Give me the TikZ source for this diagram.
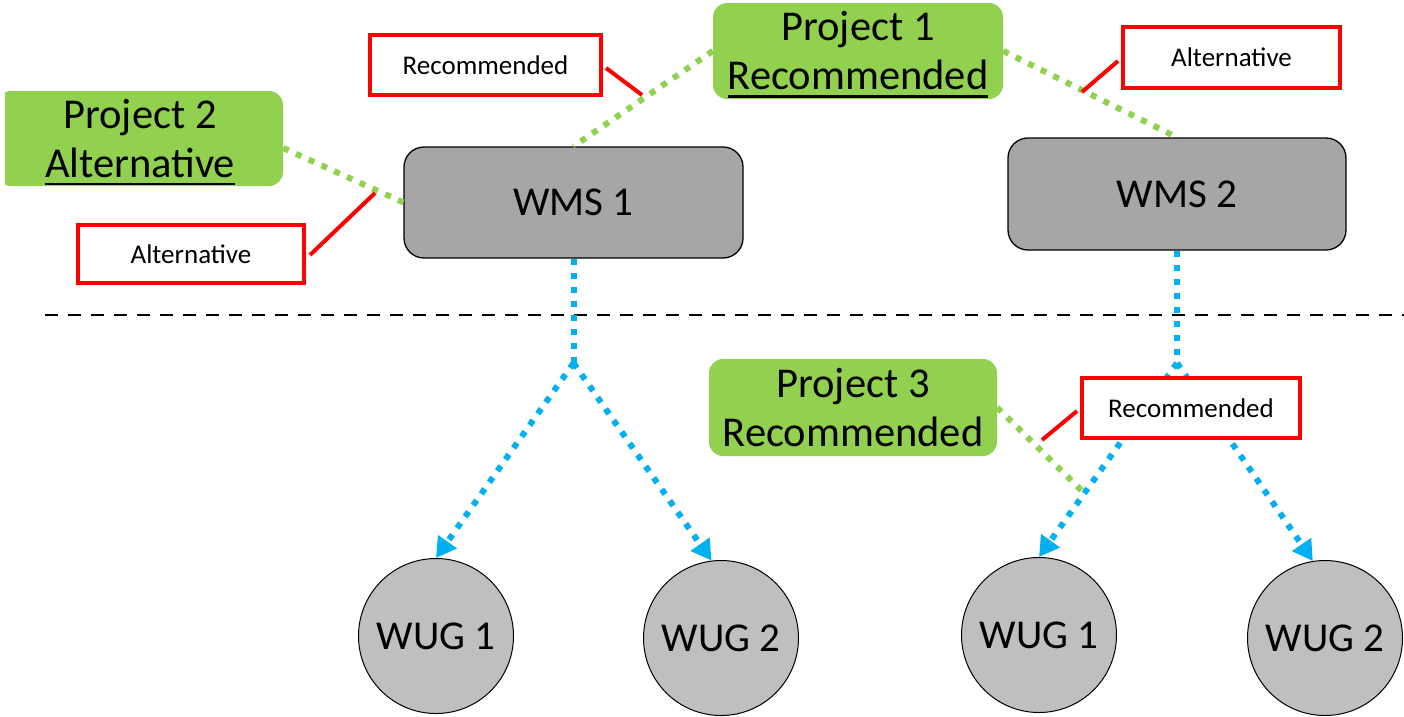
\documentclass[tikz,border=0pt]{standalone}
\usepackage{fontspec}
\setmainfont{Carlito}
\usetikzlibrary{arrows.meta}
\definecolor{pgreen}{HTML}{92D050}
\definecolor{pblue}{HTML}{00B0F0}
\definecolor{pred}{HTML}{FF0000}
\definecolor{wmsgray}{HTML}{A6A6A6}
\definecolor{wuggray}{HTML}{BFBFBF}
\newcommand\myul[1]{\setbox0\hbox{#1}\rlap{\smash{\rule[-8pt]{\wd0}{2.5pt}}}\box0}
\begin{document}
\begin{tikzpicture}[x=1pt,y=-1pt,
  proj/.style={fill=pgreen, rounded corners=14pt, align=center, inner sep=0pt,
    font=\fontsize{42.5}{49}\selectfont},
  wms/.style={draw=black, line width=1.3pt, fill=wmsgray, rounded corners=20pt,
    inner sep=0pt, font=\fontsize{41}{48}\selectfont},
  wug/.style={circle, draw=black, line width=1pt, fill=wuggray, minimum size=155pt,
    inner sep=0pt, font=\fontsize{41}{48}\selectfont},
  callout/.style={draw=pred, line width=4pt, fill=white, inner sep=0pt,
    font=\fontsize{27}{32}\selectfont},
  redline/.style={draw=pred, line width=4pt},
  greenlink/.style={draw=pgreen, line width=6pt, dash pattern=on 6pt off 8pt},
  bluelink/.style={draw=pblue, line width=6pt, dash pattern=on 6pt off 8pt},
  bluearrow/.style={bluelink, -{Triangle[length=20pt,width=22pt]}},
  divider/.style={draw=black, line width=2.5pt, dash pattern=on 13pt off 10pt}]
\useasboundingbox (0,0) rectangle (1404,716);
\fill[white] (0,0) rectangle (1404,716);

% project boxes
\node[proj, minimum width=290pt, minimum height=96pt] (p1) at (858,51)
  {Project 1\\\myul{Recommended}};
\begin{scope}
  \clip (5,0) rectangle (1404,716);
  \node[proj, minimum width=286pt, minimum height=95pt] (p2) at (140,138.5)
    {Project 2\\\myul{Alternative}};
\end{scope}
\node[proj, minimum width=288pt, minimum height=97pt] (p3) at (853,407.5)
  {Project 3\\Recommended};

% WMS boxes
\node[wms, minimum width=339pt, minimum height=111pt] (wms1) at (573.5,202.5) {WMS 1};
\node[wms, minimum width=338pt, minimum height=112pt] (wms2) at (1177,194) {WMS 2};

% WUG circles
\node[wug] (wugA) at (436,636) {WUG 1};
\node[wug] (wugB) at (721,638) {WUG 2};
\node[wug] (wugC) at (1039,635) {WUG 1};
\node[wug] (wugD) at (1325,638) {WUG 2};

% divider
\coordinate (d1) at (45,315);
\coordinate (d2) at (1404,315);
\draw[divider] (d1) -- (d2);

% blue links
\coordinate (b1) at (573.5,363);
\coordinate (b2) at (1177,363);
\draw[bluelink] (wms1.south) -- (b1);
\draw[bluelink] (wms2.south) -- (b2);
\draw[bluearrow] (b1) -- (wugA.north);
\draw[bluearrow] (b1) -- (wugB.97);
\draw[bluearrow] (b2) -- (wugC.north);
\draw[bluearrow] (b2) -- (wugD.99);

% green links
\coordinate (g3) at (1083,492);
\draw[greenlink] (p1.west) -- (wms1.north);
\draw[greenlink] (p1.east) -- (wms2.north);
\draw[greenlink] (p2.east |- 0,148) -- (wms1.west);
\draw[greenlink] (p3.east) -- (g3);

% callouts
\node[callout, minimum width=231pt, minimum height=60pt] (r1) at (485.5,65) {Recommended};
\node[callout, minimum width=217pt, minimum height=61pt] (a1) at (1231.5,57.5) {Alternative};
\node[callout, minimum width=226pt, minimum height=58pt] (a2) at (191,254) {Alternative};
\node[callout, minimum width=218pt, minimum height=60pt] (r2) at (1191,408) {Recommended};

\coordinate (r1s) at (606,68);   \coordinate (r1e) at (642,95);
\coordinate (a1s) at (1118,61);  \coordinate (a1e) at (1082,92);
\coordinate (a2s) at (310,255);  \coordinate (a2e) at (375,193);
\coordinate (r2s) at (1077,411); \coordinate (r2e) at (1042,440);
\draw[redline] (r1s) -- (r1e);
\draw[redline] (a1s) -- (a1e);
\draw[redline] (a2s) -- (a2e);
\draw[redline] (r2s) -- (r2e);
\end{tikzpicture}
\end{document}
